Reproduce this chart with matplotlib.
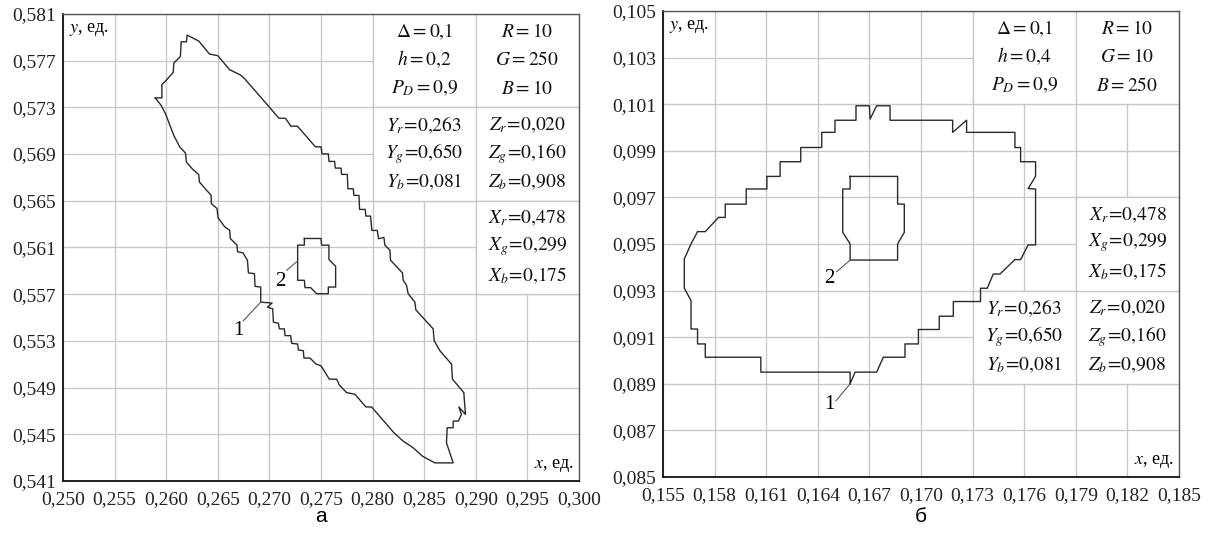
import numpy as np
import matplotlib
matplotlib.use("Agg")
import matplotlib.pyplot as plt
from matplotlib.patches import Rectangle

plt.rcParams['font.family'] = ['Liberation Serif', 'DejaVu Serif']
plt.rcParams['mathtext.fontset'] = 'stix'

# parameters shown in the tables
delta = 0.1
p_d = 0.9
h_vals = [0.2, 0.4]
rgb_vals = [[10, 250, 10], [10, 10, 250]]
x_coef = [0.478, 0.299, 0.175]
y_coef = [0.263, 0.650, 0.081]
z_coef = [0.020, 0.160, 0.908]

# axis ranges / ticks
left_xticks = [0.250, 0.255, 0.260, 0.265, 0.270, 0.275, 0.280, 0.285, 0.290, 0.295, 0.300]
left_yticks = [0.541, 0.545, 0.549, 0.553, 0.557, 0.561, 0.565, 0.569, 0.573, 0.577, 0.581]
right_xticks = [0.155, 0.158, 0.161, 0.164, 0.167, 0.170, 0.173, 0.176, 0.179, 0.182, 0.185]
right_yticks = [0.085, 0.087, 0.089, 0.091, 0.093, 0.095, 0.097, 0.099, 0.101, 0.103, 0.105]

# contour 1 (outer) and 2 (inner), panel a
left_outer = [(0.25894, 0.57381), (0.25958, 0.57381), (0.25958, 0.57495), (0.25997, 0.57529), (0.26068, 0.57600),
              (0.26074, 0.57680), (0.26138, 0.57737), (0.26145, 0.57862), (0.26196, 0.57862), (0.26203, 0.57919),
              (0.26316, 0.57868), (0.26419, 0.57757), (0.26500, 0.57743), (0.26615, 0.57623), (0.26718, 0.57578),
              (0.26757, 0.57549), (0.27001, 0.57301), (0.27092, 0.57207), (0.27156, 0.57207), (0.27208, 0.57139),
              (0.27272, 0.57139), (0.27446, 0.56962), (0.27501, 0.56962), (0.27510, 0.56902), (0.27571, 0.56902),
              (0.27578, 0.56837), (0.27632, 0.56837), (0.27639, 0.56780), (0.27694, 0.56780), (0.27700, 0.56726),
              (0.27755, 0.56726), (0.27761, 0.56603), (0.27813, 0.56603), (0.27819, 0.56546), (0.27868, 0.56546),
              (0.27874, 0.56426), (0.27929, 0.56426), (0.27935, 0.56369), (0.27980, 0.56369), (0.27993, 0.56246),
              (0.28045, 0.56246), (0.28058, 0.56175), (0.28110, 0.56186), (0.28119, 0.56120), (0.28168, 0.56077),
              (0.28174, 0.55991), (0.28290, 0.55882), (0.28297, 0.55819), (0.28329, 0.55776), (0.28345, 0.55704),
              (0.28410, 0.55632), (0.28419, 0.55566), (0.28587, 0.55403), (0.28597, 0.55302), (0.28652, 0.55216),
              (0.28765, 0.55101), (0.28774, 0.54972), (0.28884, 0.54857), (0.28900, 0.54671), (0.28836, 0.54734),
              (0.28861, 0.54671), (0.28832, 0.54613), (0.28781, 0.54613), (0.28781, 0.54556), (0.28723, 0.54556),
              (0.28716, 0.54427), (0.28781, 0.54255), (0.28603, 0.54255), (0.28484, 0.54312), (0.28394, 0.54384),
              (0.28297, 0.54441), (0.28207, 0.54513), (0.27990, 0.54734), (0.27936, 0.54734), (0.27829, 0.54843),
              (0.27748, 0.54857), (0.27677, 0.54923), (0.27652, 0.54972), (0.27581, 0.54972), (0.27500, 0.55087),
              (0.27452, 0.55101), (0.27394, 0.55153), (0.27335, 0.55153), (0.27329, 0.55216), (0.27281, 0.55222),
              (0.27274, 0.55273), (0.27216, 0.55279), (0.27206, 0.55345), (0.27152, 0.55345), (0.27145, 0.55403),
              (0.27097, 0.55403), (0.27087, 0.55451), (0.27039, 0.55460), (0.27032, 0.55575), (0.26981, 0.55589),
              (0.27026, 0.55624), (0.26916, 0.55632), (0.26916, 0.55761), (0.26861, 0.55767), (0.26855, 0.55876),
              (0.26797, 0.55882), (0.26787, 0.55991), (0.26744, 0.56054), (0.26692, 0.56063), (0.26686, 0.56120),
              (0.26621, 0.56177), (0.26615, 0.56248), (0.26567, 0.56277), (0.26502, 0.56356), (0.26493, 0.56433),
              (0.26438, 0.56476), (0.26435, 0.56547), (0.26364, 0.56618), (0.26322, 0.56661), (0.26316, 0.56723),
              (0.26251, 0.56775), (0.26196, 0.56832), (0.26187, 0.56909), (0.26132, 0.56960), (0.26074, 0.57059),
              (0.25994, 0.57244), (0.25952, 0.57316), (0.25894, 0.57381)]
left_inner = [(0.27339, 0.56177), (0.27500, 0.56177), (0.27506, 0.56120), (0.27577, 0.56120), (0.27577, 0.55997),
              (0.27642, 0.55939), (0.27642, 0.55761), (0.27571, 0.55761), (0.27571, 0.55704), (0.27458, 0.55704),
              (0.27400, 0.55756), (0.27345, 0.55756), (0.27339, 0.55819), (0.27274, 0.55819), (0.27274, 0.56120),
              (0.27339, 0.56120), (0.27339, 0.56177)]

# panel b
right_outer = [(0.16588, 0.08900), (0.16588, 0.08950), (0.16069, 0.08950), (0.16069, 0.09014), (0.15746, 0.09014),
               (0.15746, 0.09071), (0.15701, 0.09071), (0.15701, 0.09135), (0.15663, 0.09135), (0.15663, 0.09257),
               (0.15624, 0.09310), (0.15624, 0.09436), (0.15663, 0.09500), (0.15701, 0.09553), (0.15746, 0.09553),
               (0.15823, 0.09614), (0.15862, 0.09614), (0.15862, 0.09671), (0.15984, 0.09671), (0.15984, 0.09736),
               (0.16104, 0.09736), (0.16104, 0.09790), (0.16181, 0.09790), (0.16181, 0.09853), (0.16301, 0.09853),
               (0.16301, 0.09914), (0.16423, 0.09914), (0.16423, 0.09979), (0.16500, 0.09979), (0.16500, 0.10031),
               (0.16622, 0.10031), (0.16622, 0.10093), (0.16700, 0.10093), (0.16704, 0.10036), (0.16742, 0.10093),
               (0.16820, 0.10093), (0.16820, 0.10031), (0.17184, 0.10031), (0.17184, 0.09979), (0.17265, 0.10031),
               (0.17265, 0.09979), (0.17546, 0.09979), (0.17546, 0.09914), (0.17579, 0.09914), (0.17579, 0.09853),
               (0.17666, 0.09853), (0.17666, 0.09790), (0.17623, 0.09738), (0.17666, 0.09736), (0.17666, 0.09496),
               (0.17623, 0.09496), (0.17579, 0.09433), (0.17546, 0.09433), (0.17459, 0.09371), (0.17420, 0.09371),
               (0.17385, 0.09310), (0.17346, 0.09310), (0.17346, 0.09253), (0.17188, 0.09253), (0.17188, 0.09190),
               (0.17106, 0.09190), (0.17106, 0.09133), (0.16985, 0.09133), (0.16985, 0.09071), (0.16907, 0.09071),
               (0.16907, 0.09014), (0.16781, 0.09014), (0.16742, 0.08950), (0.16617, 0.08950), (0.16588, 0.08900)]
right_inner = [(0.16588, 0.09790), (0.16864, 0.09790), (0.16864, 0.09671), (0.16903, 0.09671), (0.16903, 0.09550),
               (0.16864, 0.09500), (0.16864, 0.09431), (0.16588, 0.09431), (0.16588, 0.09500), (0.16545, 0.09550),
               (0.16545, 0.09736), (0.16588, 0.09736), (0.16588, 0.09790)]

# curve numbers: (text, x, y, leader start, leader end)
left_marks = [("1", 0.26699, 0.55392, (0.26747, 0.55472), (0.26916, 0.55632)),
              ("2", 0.27110, 0.55806, (0.27168, 0.55905), (0.27274, 0.55985))]
right_marks = [("1", 0.16467, 0.08809, (0.16506, 0.08827), (0.16588, 0.08900)),
               ("2", 0.16468, 0.09350, (0.16510, 0.09381), (0.16588, 0.09431))]

GRID = '#c8c8c8'
LINE = '#2a2a2a'


def num(v, nd):
    return f"{v:.{nd}f}".replace('.', '{,}')


def put_box(ax, x0, x1, y0, y1):
    ax.add_patch(Rectangle((x0, y0), x1 - x0, y1 - y0, facecolor='white',
                           edgecolor=GRID, lw=1.0, zorder=1))


def put_rows(ax, xc, y0, y1, rows, fs=14):
    fr = [0.19, 0.49, 0.80]
    for f, s in zip(fr, rows):
        ax.text(xc, y1 - f * (y1 - y0), s, ha='center', va='center',
                fontsize=fs, color='#111111', zorder=4)


def setup(ax, xt, yt):
    ax.set_xlim(xt[0], xt[-1])
    ax.set_ylim(yt[0], yt[-1])
    ax.set_xticks(xt)
    ax.set_yticks(yt)
    ax.set_xticklabels([f"{v:.3f}".replace('.', ',') for v in xt])
    ax.set_yticklabels([f"{v:.3f}".replace('.', ',') for v in yt])
    ax.tick_params(length=0, labelsize=14, colors='#222222', pad=5)
    ax.tick_params(axis='x', pad=7)
    ax.grid(True, color=GRID, lw=1.0)
    ax.set_axisbelow(True)
    for s in ['left', 'bottom']:
        ax.spines[s].set_color('#111111')
        ax.spines[s].set_linewidth(1.3)
    for s in ['top', 'right']:
        ax.spines[s].set_color('#555555')
        ax.spines[s].set_linewidth(1.0)
    ax.text(0.012, 0.985, r"$y$, ед.", transform=ax.transAxes, ha='left', va='top', fontsize=13)
    ax.text(0.99, 0.015, r"$x$, ед.", transform=ax.transAxes, ha='right', va='bottom', fontsize=13)


def draw_curves(ax, outer, inner, marks):
    for pts in (outer, inner):
        arr = np.array(pts)
        ax.plot(arr[:, 0], arr[:, 1], color=LINE, lw=1.0, zorder=3)
    for txt, tx, ty, p0, p1 in marks:
        ax.plot([p0[0], p1[0]], [p0[1], p1[1]], color='#555555', lw=0.8, zorder=3)
        ax.text(tx, ty, txt, ha='center', va='center', fontsize=15, zorder=4)


fig = plt.figure(figsize=(12.14, 5.4), dpi=100)
ax1 = fig.add_axes([0.0519, 0.1093, 0.4250, 0.8648])
ax2 = fig.add_axes([0.5461, 0.1167, 0.4251, 0.8630])

coef_y = [rf"$Y_{c}\!=\!{num(v, 3)}$" for c, v in zip('rgb', y_coef)]
coef_z = [rf"$Z_{c}\!=\!{num(v, 3)}$" for c, v in zip('rgb', z_coef)]
coef_x = [rf"$X_{c}\!=\!{num(v, 3)}$" for c, v in zip('rgb', x_coef)]

panels = [
    (ax1, left_xticks, left_yticks, left_outer, left_inner, left_marks, 0,
     (0.280, 0.290, 0.300), (0.573, 0.581), (0.565, 0.573), (0.557, 0.565)),
    (ax2, right_xticks, right_yticks, right_outer, right_inner, right_marks, 1,
     (0.173, 0.179, 0.185), (0.101, 0.105), (0.089, 0.093), (0.093, 0.097)),
]

for ax, xt, yt, outer, inner, marks, k, xs, ya, yb, yc in panels:
    setup(ax, xt, yt)
    x0, xm, x1 = xs
    # parameter box
    put_box(ax, x0, x1, ya[0], ya[1])
    ax.plot([xm, xm], [ya[0], ya[1]], color=GRID, lw=1.0, zorder=1.2)
    params = [rf"$\Delta = {num(delta, 1)}$", rf"$h = {num(h_vals[k], 1)}$", rf"$P_D = {num(p_d, 1)}$"]
    rgb = [rf"$R = {rgb_vals[k][0]}$", rf"$G = {rgb_vals[k][1]}$", rf"$B = {rgb_vals[k][2]}$"]
    put_rows(ax, (x0 + xm) / 2, ya[0], ya[1], params)
    put_rows(ax, (xm + x1) / 2, ya[0], ya[1], rgb)
    # Y / Z box
    put_box(ax, x0, x1, yb[0], yb[1])
    ax.plot([xm, xm], [yb[0], yb[1]], color=GRID, lw=1.0, zorder=1.2)
    put_rows(ax, (x0 + xm) / 2, yb[0], yb[1], coef_y)
    put_rows(ax, (xm + x1) / 2, yb[0], yb[1], coef_z)
    # X box
    put_box(ax, xm, x1, yc[0], yc[1])
    put_rows(ax, (xm + x1) / 2, yc[0], yc[1], coef_x)
    draw_curves(ax, outer, inner, marks)

fig.text(0.2644, 0.043, "а", ha='center', va='center', fontsize=15, family=['Liberation Sans', 'DejaVu Sans'])
fig.text(0.7586, 0.043, "б", ha='center', va='center', fontsize=15, family=['Liberation Sans', 'DejaVu Sans'])

fig.savefig("out.png", dpi=100)
